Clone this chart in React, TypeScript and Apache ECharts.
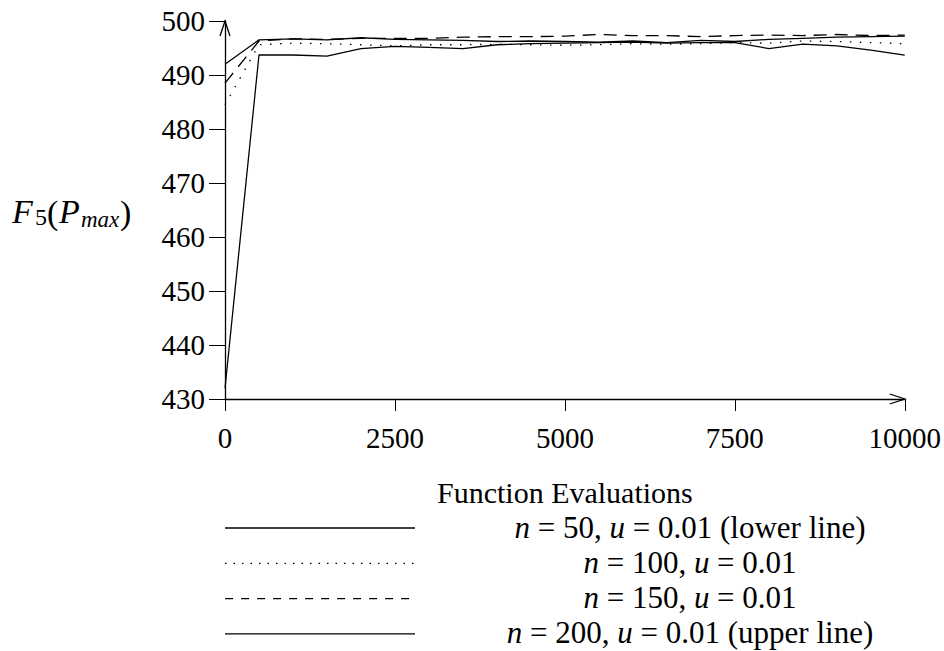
import React, { useEffect, useRef } from "react";
import * as echarts from "echarts";

const xs = [0, 500, 1000, 1500, 2000, 2500, 3000, 3500, 4000, 4500, 5000, 5500, 6000, 6500, 7000, 7500, 8000, 8500, 9000, 9500, 10000];
const n50 = [432, 493.7, 493.7, 493.5, 494.9, 495.3, 495.1, 494.9, 495.6, 495.8, 495.9, 496.0, 496.1, 495.9, 496.0, 496.0, 494.9, 495.7, 495.4, 494.6, 493.7];
const n100 = [484.5, 495.6, 495.9, 495.8, 495.6, 495.4, 495.6, 495.6, 495.7, 495.6, 495.5, 495.6, 495.8, 495.7, 495.8, 496.0, 495.9, 496.3, 496.2, 496.0, 495.8];
const n150 = [488.5, 496.3, 496.7, 496.6, 496.8, 496.8, 496.8, 497.0, 497.1, 497.1, 497.2, 497.5, 497.3, 497.3, 497.1, 497.3, 497.4, 497.3, 497.5, 497.3, 497.4];
const n200 = [492, 496.5, 496.7, 496.5, 496.9, 496.6, 496.5, 496.4, 496.2, 496.3, 496.2, 496.1, 496.3, 496.0, 496.4, 496.2, 496.6, 496.8, 497.0, 497.1, 497.2];

const seriesNames = ["n=50", "n=100", "n=150", "n=200"];
const legendLabels = [
  "{i|n} = 50, {i|u} = 0.01 (lower line)",
  "{i|n} = 100, {i|u} = 0.01",
  "{i|n} = 150, {i|u} = 0.01",
  "{i|n} = 200, {i|u} = 0.01 (upper line)",
];
const xAxisName = "Function Evaluations";

const FONT = "'Liberation Serif', 'DejaVu Serif', serif";
const dashStyles: any[] = ["solid", [1.5, 8.5], [13, 8], "solid"];
const legendDash: any[] = ["solid", [1.5, 7], [8, 8], "solid"];

export default function App() {
  const ref = useRef<HTMLDivElement>(null);
  useEffect(() => {
    if (!ref.current) return;
    const chart = echarts.init(ref.current, null, { renderer: "svg" });
    const allData = [n50, n100, n150, n200];
    chart.setOption({
      animation: false,
      backgroundColor: "#fff",
      grid: { left: 225, top: 21, width: 680, height: 378, containLabel: false },
      xAxis: {
        type: "value",
        min: 0,
        max: 10000,
        interval: 2500,
        name: xAxisName,
        nameLocation: "middle",
        nameGap: 78,
        nameTextStyle: { fontFamily: FONT, fontSize: 30, color: "#000" },
        axisLine: { lineStyle: { color: "#000", width: 1.3 } },
        axisTick: { length: 12, lineStyle: { color: "#000", width: 1 } },
        axisLabel: { fontFamily: FONT, fontSize: 29, color: "#000", margin: 24, formatter: (v: number) => String(v) },
        splitLine: { show: false },
      },
      yAxis: {
        type: "value",
        min: 430,
        max: 500,
        interval: 10,
        axisLine: { lineStyle: { color: "#000", width: 1.3 } },
        axisTick: { length: 16, lineStyle: { color: "#000", width: 1 } },
        axisLabel: { fontFamily: FONT, fontSize: 29, color: "#000", margin: 20, formatter: (v: number) => String(v) },
        splitLine: { show: false },
      },
      series: allData.map((d, i) => ({
        name: seriesNames[i],
        type: "line",
        symbol: "none",
        showSymbol: false,
        data: xs.map((x, j) => [x, d[j]]),
        lineStyle: { color: "#000", width: 1.3, type: dashStyles[i] },
      })),
    });

    const [x0, yTop] = chart.convertToPixel({ gridIndex: 0 }, [0, 500]) as number[];
    const [xEnd, y0] = chart.convertToPixel({ gridIndex: 0 }, [10000, 430]) as number[];
    const arrowStyle = { stroke: "#000", lineWidth: 1.3, fill: "none" };
    const legendTop = 528;
    const legendStep = 35.3;
    const graphic: any[] = [
      {
        type: "polyline",
        shape: { points: [[x0 - 5, yTop + 15], [x0, yTop], [x0 + 5, yTop + 15]] },
        style: arrowStyle,
      },
      {
        type: "polyline",
        shape: { points: [[xEnd - 15, y0 - 5], [xEnd, y0], [xEnd - 15, y0 + 5]] },
        style: arrowStyle,
      },
      { type: "text", x: 12, y: 211, style: { text: "F", fontFamily: FONT, fontStyle: "italic", fontSize: 34, fill: "#000", textVerticalAlign: "middle" } },
      { type: "text", x: 35, y: 217, style: { text: "5", fontFamily: FONT, fontSize: 24, fill: "#000", textVerticalAlign: "middle" } },
      { type: "text", x: 47, y: 212, style: { text: "(", fontFamily: FONT, fontSize: 34, fill: "#000", textVerticalAlign: "middle" } },
      { type: "text", x: 59, y: 211, style: { text: "P", fontFamily: FONT, fontStyle: "italic", fontSize: 34, fill: "#000", textVerticalAlign: "middle" } },
      { type: "text", x: 81, y: 219, style: { text: "max", fontFamily: FONT, fontStyle: "italic", fontSize: 23, fill: "#000", textVerticalAlign: "middle" } },
      { type: "text", x: 120, y: 212, style: { text: ")", fontFamily: FONT, fontSize: 34, fill: "#000", textVerticalAlign: "middle" } },
    ];
    legendLabels.forEach((lab, i) => {
      const y = legendTop + i * legendStep;
      graphic.push({
        type: "line",
        shape: { x1: 225, y1: y, x2: 415, y2: y },
        style: { stroke: "#000", lineWidth: 1.3, lineDash: legendDash[i] === "solid" ? null : legendDash[i] },
      });
      graphic.push({
        type: "text",
        x: 690,
        y: y - 1,
        style: {
          text: lab,
          fontFamily: FONT,
          fontSize: 31,
          fill: "#000",
          textAlign: "center",
          textVerticalAlign: "middle",
          rich: { i: { fontFamily: FONT, fontStyle: "italic", fontSize: 31, fill: "#000" } },
        },
      });
    });
    chart.setOption({ graphic });
    return () => chart.dispose();
  }, []);
  return (
    <div
      ref={ref}
      style={{ position: "absolute", left: 0, top: 0, width: 944, height: 651, background: "#fff" }}
    />
  );
}
